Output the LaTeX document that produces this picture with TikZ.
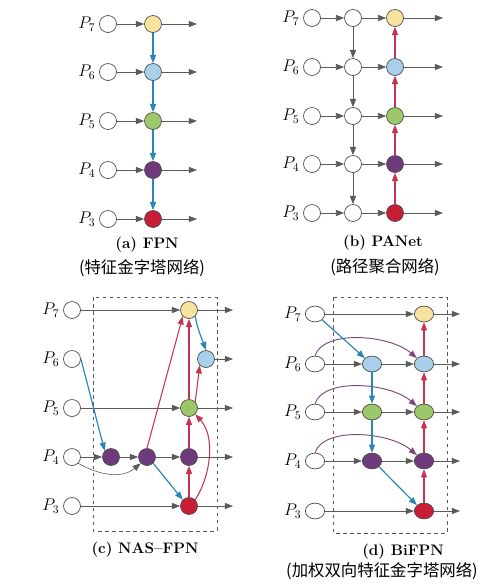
\documentclass[tikz,border=0pt]{standalone}
\usepackage{fontspec}
\newfontfamily\cjk{Noto Sans CJK SC}
\usetikzlibrary{arrows.meta,shapes.geometric}
\definecolor{fyellow}{HTML}{F8E2A0}
\definecolor{fblue}{HTML}{A8D0EA}
\definecolor{fgreen}{HTML}{9CC86A}
\definecolor{fpurple}{HTML}{6F3A7C}
\definecolor{fred}{HTML}{C81E35}
\definecolor{ablue}{HTML}{2A86B8}
\definecolor{ared}{HTML}{C4344F}
\definecolor{apurple}{HTML}{7E4A7E}
\definecolor{agray}{HTML}{5A5A5A}
\tikzset{
  feat/.style={circle,draw=black!70,line width=0.6pt,minimum size=14.5pt,inner sep=0pt},
  featd/.style={ellipse,draw=black!70,line width=0.6pt,minimum width=16.5pt,minimum height=13.5pt,inner sep=0pt},
  plab/.style={anchor=east,inner sep=1pt,font=\fontsize{14}{16}\selectfont},
  arr/.style={-{Triangle[length=7pt,width=5.2pt]}},
  gline/.style={arr,draw=agray,line width=0.5pt},
  bline/.style={arr,draw=ablue,line width=1pt},
  rline/.style={arr,draw=ared,line width=0.9pt},
  pline/.style={arr,draw=apurple,line width=0.8pt},
  capt/.style={font=\fontsize{13}{15}\selectfont\bfseries},
  ccapt/.style={font=\fontsize{14}{16}\selectfont\cjk},
}
\begin{document}
\begin{tikzpicture}[x=0.03cm,y=-0.03cm]
  \useasboundingbox (0,0) rectangle (500,586);
  % (a) FPN
  \foreach \r/\y/\c in {7/24/fyellow,6/72/fblue,5/121/fgreen,4/170/fpurple,3/219/fred}{
    \node[feat] (ai\r) at (108,\y) {};
    \node[plab] (al\r) at ([xshift=-2pt]ai\r.west) {$P_{\r}$};
    \node[feat,fill=\c] (a\r) at (153,\y) {};
    \coordinate (ao\r) at (197,\y);
    \draw[gline] (ai\r) -- (a\r);
    \draw[gline] (a\r) -- (ao\r);
  }
  \foreach \u/\d in {7/6,6/5,5/4,4/3}
    \draw[bline] (a\u) -- (a\d);
  \node[capt] (acap) at (147,245) {(a) FPN};
  \node[ccapt] (acn) at (142,268) {(特征金字塔网络)};
  % (b) PANet
  \foreach \r/\y/\c in {7/18/fyellow,6/67/fblue,5/116/fgreen,4/164/fpurple,3/213/fred}{
    \node[feat] (bi\r) at (312,\y) {};
    \node[plab] (bl\r) at ([xshift=-2pt]bi\r.west) {$P_{\r}$};
    \node[feat] (bm\r) at (353,\y) {};
    \node[feat,fill=\c] (b\r) at (395,\y) {};
    \coordinate (bo\r) at (443,\y);
    \draw[gline] (bi\r) -- (bm\r);
    \draw[gline] (bm\r) -- (b\r);
    \draw[gline] (b\r) -- (bo\r);
  }
  \foreach \u/\d in {7/6,6/5,5/4,4/3}{
    \draw[gline] (bm\u) -- (bm\d);
    \draw[rline] (b\d) -- (b\u);
  }
  \node[capt] (bcap) at (383,243) {(b) PANet};
  \node[ccapt] (bcn) at (385,267) {(路径聚合网络)};
  % (c) NAS-FPN
  \draw[dashed,black!65,line width=0.6pt] (93,297) rectangle (217,531);
  \foreach \r/\y in {7/310,6/359,5/408,4/457,3/506}{
    \node[feat] (ci\r) at (72,\y) {};
    \node[plab] (cl\r) at ([xshift=-2pt]ci\r.west) {$P_{\r}$};
    \coordinate (co\r) at (233,\y);
  }
  \node[feat,fill=fyellow] (c7) at (189,310) {};
  \node[feat,fill=fblue] (c6) at (206,359) {};
  \node[feat,fill=fgreen] (c5) at (189,408) {};
  \node[feat,fill=fpurple] (c4a) at (111,457) {};
  \node[feat,fill=fpurple] (c4b) at (147,457) {};
  \node[feat,fill=fpurple] (c4c) at (189,457) {};
  \node[feat,fill=fred] (c3) at (189,506) {};
  \draw[gline] (ci7) -- (c7);
  \draw[gline] (ci5) -- (c5);
  \draw[gline] (ci4) -- (c4a);
  \draw[gline] (c4a) -- (c4b);
  \draw[gline] (c4b) -- (c4c);
  \draw[gline] (ci3) -- (c3);
  \draw[gline] (ci4.south east) to[out=-30,in=-140] (c4b.south west);
  \draw[bline] (ci6.east) to[out=-75,in=105] (c4a.north west);
  \draw[bline] (c4b.south east) -- (c3.north west);
  \draw[bline] (c7.south east) to[out=-80,in=110] (c6.north);
  \draw[rline] (c4b.north) -- (c7.south west);
  \draw[rline] (c3) -- (c4c);
  \draw[rline] (c4c) -- (c5);
  \draw[rline] (c5) -- (c7);
  \draw[rline] (c5.north east) -- (c6.south west);
  \draw[rline] (c3.north east) .. controls +(16,-25) and +(20,22) .. (c5.south east);
  \foreach \n/\r in {c7/7,c6/6,c5/5,c4c/4,c3/3}
    \draw[gline] (\n) -- (co\r);
  \node[capt] (ccap) at (145,550) {(c) NAS--FPN};
  % (d) BiFPN
  \draw[dashed,black!65,line width=0.6pt] (333,297) rectangle (447,533);
  \foreach \r/\y in {7/314,6/364,5/412,4/461,3/511}{
    \node[featd] (di\r) at (315,\y) {};
    \node[plab] (dl\r) at ([xshift=-2pt]di\r.west) {$P_{\r}$};
    \coordinate (do\r) at (460,\y);
  }
  \node[featd,fill=fblue] (d6m) at (372,364) {};
  \node[featd,fill=fgreen] (d5m) at (372,412) {};
  \node[featd,fill=fpurple] (d4m) at (372,461) {};
  \node[featd,fill=fyellow] (d7) at (424,314) {};
  \node[featd,fill=fblue] (d6) at (424,364) {};
  \node[featd,fill=fgreen] (d5) at (424,412) {};
  \node[featd,fill=fpurple] (d4) at (424,461) {};
  \node[featd,fill=fred] (d3) at (424,511) {};
  \draw[gline] (di7) -- (d7);
  \draw[gline] (di3) -- (d3);
  \foreach \r in {6,5,4}{
    \draw[gline] (di\r) -- (d\r m);
    \draw[gline] (d\r m) -- (d\r);
    \draw[pline] (di\r.north) .. controls +(8,-26) and +(-28,-24) .. (d\r.north west);
  }
  \draw[bline] (di7.south east) -- (d6m.north west);
  \draw[bline] (d6m) -- (d5m);
  \draw[bline] (d5m) -- (d4m);
  \draw[bline] (d4m.south east) -- (d3.north west);
  \foreach \d/\u in {3/4,4/5,5/6,6/7}
    \draw[rline] (d\d) -- (d\u);
  \foreach \r in {7,6,5,4,3}
    \draw[gline] (d\r) -- (do\r);
  \node[capt] (dcap) at (403,552) {(d) BiFPN};
  \node[ccapt] (dcn) at (382,571) {(加权双向特征金字塔网络)};
\end{tikzpicture}
\end{document}
